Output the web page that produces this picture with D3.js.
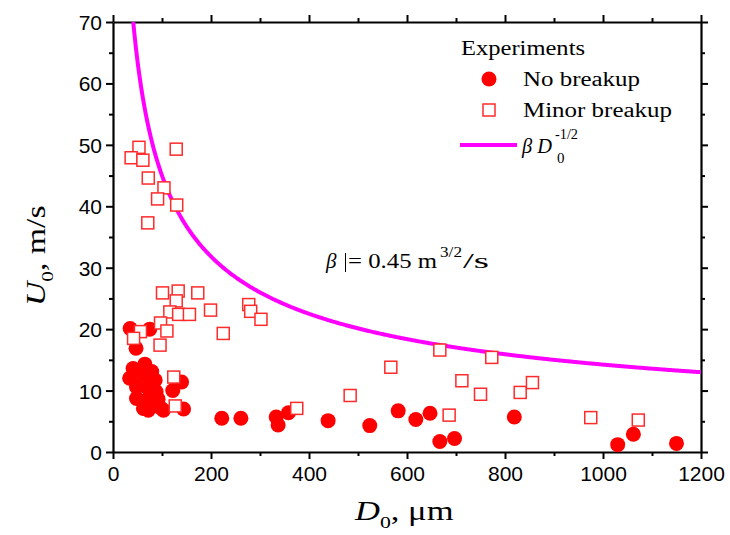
<!DOCTYPE html>
<html lang="en">
<head>
    <meta charset="UTF-8">
    <title>U0 vs D0</title>
    <style>
        html,body { margin:0; padding:0; background:#fff; }
        svg text { fill:#000; }
    </style>
    <script src="https://cdn.jsdelivr.net/npm/d3@7"></script>
</head>
<body>
<svg id="chart" width="730" height="535"></svg>
<script>
// [D0 (um), U0 (m/s)]
const noBreakup = [
    [35,20.1],[75,20.0],[47,16.9],
    [41,13.6],[65,14.3],[34,12.0],[57,12.7],[75,12.5],[79,13.1],[86,11.7],
    [48,10.6],[69,10.6],[88,9.8],[82,10.2],
    [48,8.7],[69,8.5],[92,8.6],
    [72,6.8],[97,7.2],[86,7.6],[62,7.1],[103,6.8],
    [140,11.4],[122,10.0],[144,7.0],
    [222,5.5],[261,5.5],[333,5.7],[337,4.4],[358,6.4],[439,5.1],[524,4.3],
    [582,6.7],[618,5.3],[647,6.3],[667,1.7],[697,2.2],[819,5.7],
    [1030,1.2],[1062,2.9],[1150,1.4]
];
const minorBreakup = [
    [53,49.6],[37,47.9],[61,47.5],[129,49.3],[72,44.6],[104,43.0],[91,41.2],[130,40.2],[71,37.3],
    [101,25.9],[133,26.2],[173,25.9],[129,24.6],[116,22.8],[134,22.4],[156,22.4],[199,23.1],
    [277,24.0],[281,22.9],[302,21.6],[225,19.3],[97,21.0],[110,19.7],[56,19.6],[42,18.5],[96,17.4],
    [124,12.2],[127,7.5],
    [667,16.6],[773,15.4],[567,13.8],[712,11.6],[750,9.4],[484,9.2],[375,7.1],[686,6.0],
    [831,9.7],[856,11.3],[975,5.6],[1072,5.2]
];
const beta = 0.45;            // m^(3/2)/s
const xTicks = [0,200,400,600,800,1000,1200];
const yTicks = [0,10,20,30,40,50,60,70];
const legendLabels = ['Experiments','No breakup','Minor breakup'];

const svg = d3.select('#chart');
const x = d3.scaleLinear().domain([0,1200]).range([113,701]);
const y = d3.scaleLinear().domain([0,70]).range([452,22]);

const serif = '"Liberation Serif", "Times New Roman", serif';
const sans = '"Liberation Sans", Arial, sans-serif';

// minor ticks first, then major ones with labels
function drawAxis(axisFn, scale, minor, major, transform, labels) {
    const gm = svg.append('g').attr('transform', transform)
        .call(axisFn(scale).tickValues(minor).tickSize(4).tickFormat(''));
    gm.select('.domain').remove();
    gm.selectAll('line').attr('stroke','#000').attr('stroke-width',2);
    const g = svg.append('g').attr('transform', transform)
        .call(axisFn(scale).tickValues(major).tickSize(7).tickSizeOuter(0)
            .tickFormat(labels ? d3.format('d') : ''));
    g.select('.domain').attr('stroke','#000').attr('stroke-width',2.2);
    g.selectAll('line').attr('stroke','#000').attr('stroke-width',2);
    g.selectAll('text').attr('font-family',sans).attr('font-size',21).attr('fill','#111');
    return g;
}
const xMinor = d3.range(100,1200,200);
const yMinor = d3.range(5,70,10);
const gx = drawAxis(d3.axisBottom, x, xMinor, xTicks, 'translate(0,452)', true);
gx.selectAll('text').attr('dy','0.95em').attr('y',9);
const gy = drawAxis(d3.axisLeft, y, yMinor, yTicks, 'translate(113,0)', true);
gy.selectAll('text').attr('x',-11).attr('dy','0.36em');
drawAxis(d3.axisTop, x, xMinor, xTicks, 'translate(0,22)', false);
drawAxis(d3.axisRight, y, yMinor, yTicks, 'translate(701,0)', false);

// model curve U = beta * D^-1/2 (D in metres)
const dStart = Math.pow(beta/70,2)*1e6;
const curveD = d3.range(dStart, 1200.1, 2);
svg.append('path')
    .datum(curveD)
    .attr('fill','none').attr('stroke','#ff00ff').attr('stroke-width',4)
    .attr('d', d3.line().x(d=>x(d)).y(d=>y(beta/Math.sqrt(d*1e-6))));

// data marks
svg.append('g').selectAll('circle').data(noBreakup).enter().append('circle')
    .attr('cx', d=>x(d[0])).attr('cy', d=>y(d[1])).attr('r',7.5)
    .attr('fill','#ff0000');
svg.append('g').selectAll('rect').data(minorBreakup).enter().append('rect')
    .attr('x', d=>x(d[0])-6).attr('y', d=>y(d[1])-6)
    .attr('width',12).attr('height',12)
    .attr('fill','#fff').attr('stroke','#ff2a2a').attr('stroke-width',1.5);

// legend
const leg = svg.append('g').attr('font-family',serif).attr('font-size',20);
leg.append('text').attr('x',461).attr('y',55).attr('textLength',124).attr('lengthAdjust','spacingAndGlyphs').text(legendLabels[0]);
leg.append('circle').attr('cx',489).attr('cy',79).attr('r',7.5).attr('fill','#ff0000');
leg.append('text').attr('x',523).attr('y',86).attr('textLength',117).attr('lengthAdjust','spacingAndGlyphs').text(legendLabels[1]);
leg.append('rect').attr('x',483).attr('y',104).attr('width',12).attr('height',12)
    .attr('fill','#fff').attr('stroke','#ff2a2a').attr('stroke-width',1.5);
leg.append('text').attr('x',523).attr('y',117).attr('textLength',149).attr('lengthAdjust','spacingAndGlyphs').text(legendLabels[2]);
leg.append('line').attr('x1',460).attr('x2',517).attr('y1',145).attr('y2',145)
    .attr('stroke','#ff00ff').attr('stroke-width',4);
leg.append('text').attr('x',522).attr('y',153).attr('font-style','italic')
    .attr('textLength',30).attr('lengthAdjust','spacingAndGlyphs').text('β D');
leg.append('text').attr('x',555).attr('y',139).attr('font-size',14)
    .attr('textLength',23).attr('lengthAdjust','spacingAndGlyphs').text('-1/2');
leg.append('text').attr('x',557).attr('y',163).attr('font-size',15).text('0');

// annotation
const ann = svg.append('g').attr('font-family',serif).attr('font-size',21);
ann.append('text').attr('x',326).attr('y',268).attr('font-style','italic').text('β');
ann.append('text').attr('x',348).attr('y',268)
    .attr('textLength',89).attr('lengthAdjust','spacingAndGlyphs').text('= 0.45 m');
ann.append('text').attr('x',440).attr('y',257).attr('font-size',14)
    .attr('textLength',22).attr('lengthAdjust','spacingAndGlyphs').text('3/2');
ann.append('text').attr('x',463).attr('y',268)
    .attr('textLength',26).attr('lengthAdjust','spacingAndGlyphs').text('/s');
svg.append('line').attr('x1',345.5).attr('x2',345.5).attr('y1',253).attr('y2',272)
    .attr('stroke','#000').attr('stroke-width',1);

// axis titles (stretched a bit horizontally like the original)
const xt = svg.append('text').attr('transform','translate(355,520) scale(1.28,1)')
    .attr('font-family',serif).attr('font-size',27);
xt.append('tspan').attr('font-style','italic').text('D');
xt.append('tspan').attr('font-size',17).attr('dy',8).text('0');
xt.append('tspan').attr('dy',-8).text(', μm');

const yt = svg.append('text').attr('transform','translate(45,306) rotate(-90) scale(1.25,1)')
    .attr('font-family',serif).attr('font-size',27);
yt.append('tspan').attr('font-style','italic').text('U');
yt.append('tspan').attr('font-size',17).attr('dy',8).text('0');
yt.append('tspan').attr('dy',-8).text(', m/s');
</script>
</body>
</html>
